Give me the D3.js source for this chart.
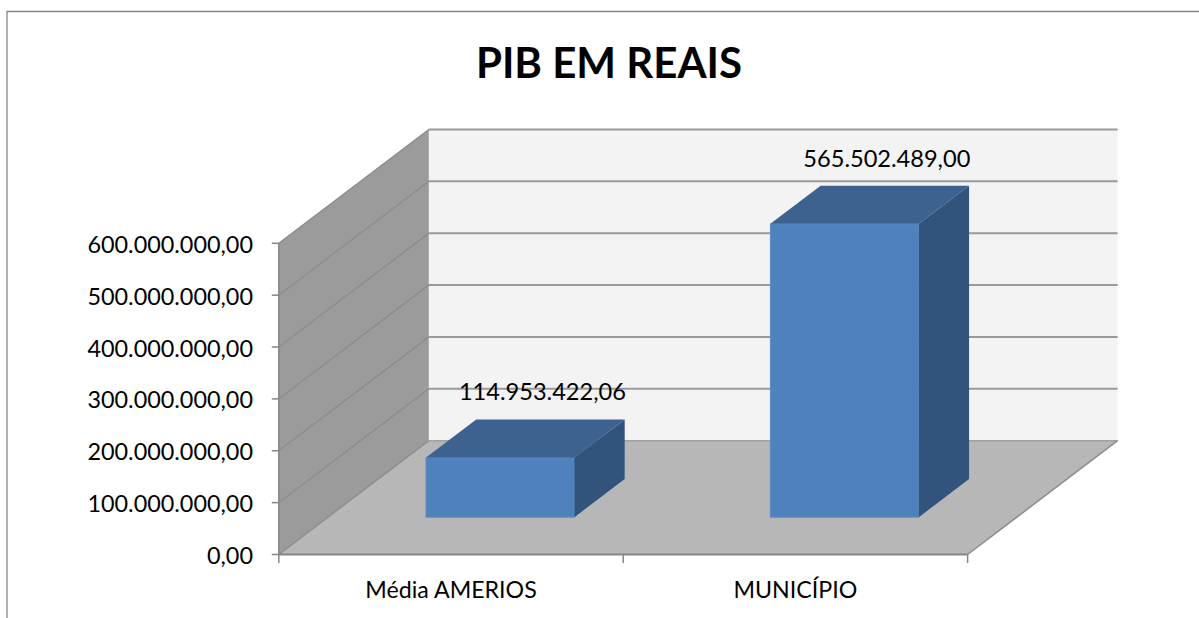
<!DOCTYPE html>
<html><head><meta charset="utf-8">
<script src="https://cdn.jsdelivr.net/npm/d3@7"></script>
<style>html,body{margin:0;padding:0;background:#fff;overflow:hidden}svg{display:block}text{font-family:Lato,"Open Sans","Noto Sans",sans-serif;fill:#000}</style>
</head><body><svg id="c" width="1199" height="618"></svg>
<script>
const title = "PIB EM REAIS";
const categories = ["Média AMERIOS", "MUNICÍPIO"];
const values = [114953422.06, 565502489.00];
const valueLabels = ["114.953.422,06", "565.502.489,00"];
const tickValues = [0, 100000000, 200000000, 300000000, 400000000, 500000000, 600000000];
const tickLabels = ["0,00", "100.000.000,00", "200.000.000,00", "300.000.000,00", "400.000.000,00", "500.000.000,00", "600.000.000,00"];

const svg = d3.select("#c");
const x = d3.scaleBand().domain(categories).range([278.8, 967.6]);
const y = d3.scaleLinear().domain([0, 600000000]).range([554.5, 243.3]);
const dx = d3.scaleLinear().domain([0, 1]).range([0, 150]);
const dy = d3.scaleLinear().domain([0, 1]).range([0, -113.8]);
const P = (px, v, d) => [px + dx(d), y(v) + dy(d)];
const poly = (pts, fill, stroke, sw) => svg.append("polygon").attr("points", pts.map(p => p.join(",")).join(" ")).attr("fill", fill).attr("stroke", stroke || "none").attr("stroke-width", sw || 0);
const line = (a, b, c, w) => svg.append("line").attr("x1", a[0]).attr("y1", a[1]).attr("x2", b[0]).attr("y2", b[1]).attr("stroke", c).attr("stroke-width", w);

// outer frame (continues past the right and bottom of the page)
svg.append("path").attr("d", "M7,618V11.5H1199").attr("fill", "none").attr("stroke", "#868686").attr("stroke-width", 1.3);

const L = x.range()[0], R = x.range()[1], maxV = 600000000;
// back wall, side wall, floor
poly([P(L, 0, 1), P(R, 0, 1), P(R, maxV, 1), P(L, maxV, 1)], "#f3f3f3");
poly([P(L, 0, 0), P(L, 0, 1), P(L, maxV, 1), P(L, maxV, 0)], "#9b9b9b");
poly([P(L, 0, 0), P(R, 0, 0), P(R, 0, 1), P(L, 0, 1)], "#b7b7b7");

tickValues.forEach(v => {
  if (v > 0) line(P(L, v, 1), P(R, v, 1), "#9a9a9a", 2);
  line(P(L, v, 0), P(L, v, 1), "#8a8a8a", 1.2);
});
line(P(L, 0, 1), P(R, 0, 1), "#a0a0a0", 1.5);
line(P(L, 0, 0), P(L, maxV, 0), "#868686", 1.5);
line(P(R, 0, 0), P(R, 0, 1), "#8c8c8c", 1.5);
line(P(L, 0, 0), P(R, 0, 0), "#868686", 2);

// axis ticks and labels
tickValues.forEach((v, i) => {
  line([L - 7, y(v)], [L, y(v)], "#868686", 1.5);
  svg.append("text").attr("x", 253).attr("y", y(v) + 9.5).attr("text-anchor", "end").attr("font-size", 23.4).text(tickLabels[i]);
});
[L, x(categories[1]), R].forEach(px => line([px, 554.5], [px, 563], "#868686", 1.5));
categories.forEach(c => svg.append("text").attr("x", x(c) + x.bandwidth() / 2).attr("y", 598).attr("text-anchor", "middle").attr("font-size", 23.2).text(c));

// bars
const d0 = 0.328, d1 = 0.663;
const barW = x.bandwidth() * 0.431;
categories.forEach((c, i) => {
  const a = x(c) + (x.bandwidth() - barW) / 2, b = a + barW, v = values[i];
  poly([P(a, 0, d0), P(b, 0, d0), P(b, v, d0), P(a, v, d0)], "#4f81bd", "#5f8cc2", 1);
  poly([P(a, v, d0), P(b, v, d0), P(b, v, d1), P(a, v, d1)], "#3e6290");
  poly([P(b, 0, d0), P(b, 0, d1), P(b, v, d1), P(b, v, d0)], "#32547c");
  const t = P(b, v, d1);
  svg.append("text").attr("x", (P(a, v, d1)[0] + t[0]) / 2 - 8).attr("y", t[1] - 19).attr("text-anchor", "middle").attr("font-size", 23.6).text(valueLabels[i]);
});

svg.append("text").attr("x", 609).attr("y", 78).attr("text-anchor", "middle").attr("font-size", 42).attr("font-weight", 700).text(title);
</script></body></html>
